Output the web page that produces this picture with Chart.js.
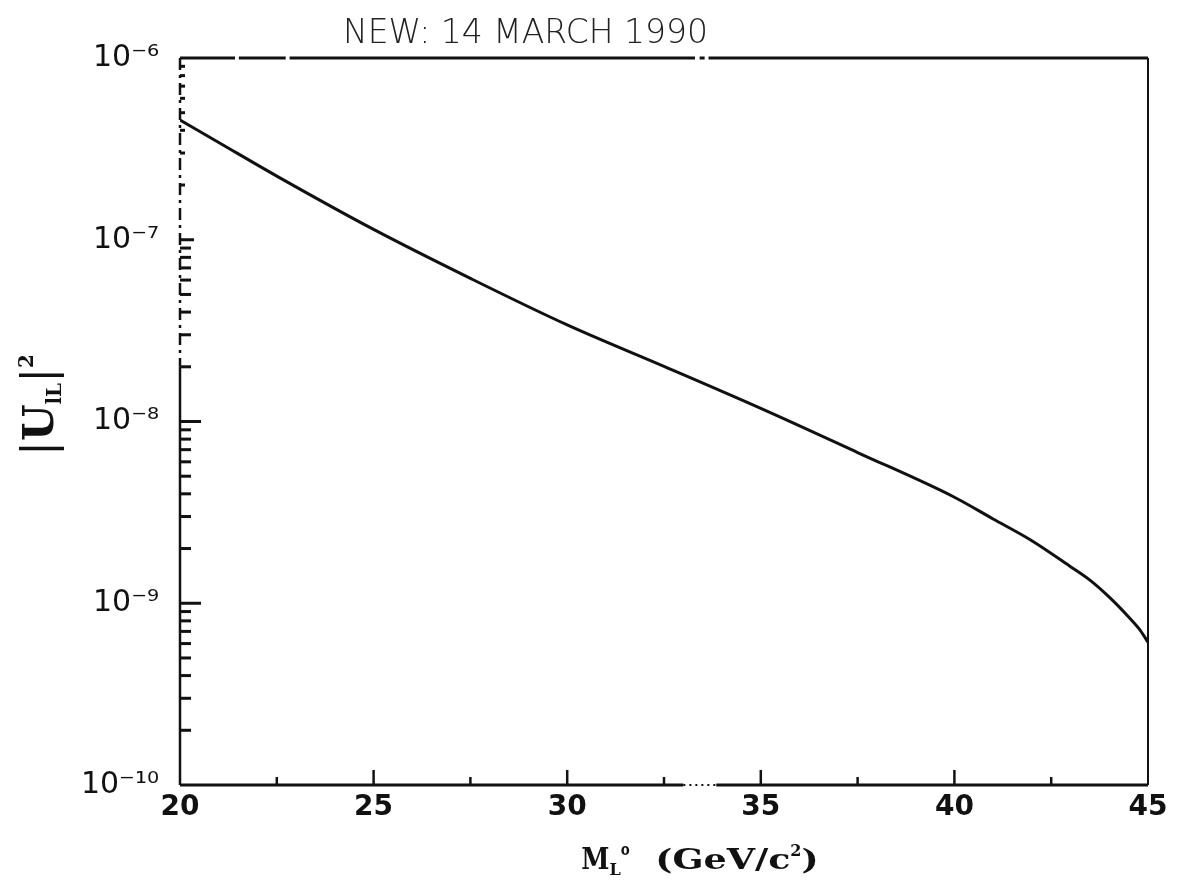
<!DOCTYPE html>
<html>
<head>
<meta charset="utf-8">
<script src="https://cdn.jsdelivr.net/npm/chart.js@4.4.1/dist/chart.umd.min.js"></script>
<style>
  html, body { margin: 0; padding: 0; background: #fff; }
  canvas { display: block; }
</style>
</head>
<body>
<canvas id="limitChart" width="1182" height="883"></canvas>
<script>
"use strict";

// heavy lepton mass (GeV/c^2) and the |U|^2 limit along the curve
const massValues = [20, 21, 22.5, 25, 27.5, 30, 32.5, 35, 37.5, 40, 41, 42, 43, 43.5, 44, 44.5, 44.8, 45];
const mixingValues = [4.56e-7, 3.43e-7, 2.24e-7, 1.14e-7, 6.13e-8, 3.4e-8, 2.01e-8, 1.18e-8, 6.75e-9,
  3.83e-9, 2.91e-9, 2.21e-9, 1.59e-9, 1.34e-9, 1.08e-9, 8.4e-10, 7.1e-10, 6.1e-10];

// axis ticks
const xMajorTicks = [20, 25, 30, 35, 40, 45];
const xMinorTicks = [22.5, 27.5, 32.5, 37.5, 42.5];
const yDecades = [-10, -9, -8, -7, -6];

const ink = "#111";
const supers = { "-": "⁻", "0": "⁰", "1": "¹", "2": "²", "3": "³", "4": "⁴", "5": "⁵", "6": "⁶", "7": "⁷", "8": "⁸", "9": "⁹" };
const powerLabel = (v) => {
  const e = Math.round(Math.log10(v));
  return "10" + String(e).split("").map((c) => supers[c]).join("");
};

// draws a run of text pieces with their own font, vertical shift and stretch
function drawRuns(ctx, runs, x, y, centered) {
  let total = 0;
  runs.forEach((r) => {
    ctx.font = r.font;
    r.w = ctx.measureText(r.t).width * (r.sx || 1);
    total += r.w;
  });
  let cx = centered ? x - total / 2 : x;
  runs.forEach((r) => {
    ctx.save();
    ctx.font = r.font;
    ctx.translate(cx, y + (r.dy || 0));
    ctx.scale(r.sx || 1, 1);
    ctx.fillText(r.t, 0, 0);
    ctx.restore();
    cx += r.w;
  });
}

const frameAndLabels = {
  id: "frameAndLabels",
  afterDraw(chart) {
    const { ctx, chartArea: a, scales } = chart;
    const x = scales.x;
    const y = scales.y;
    ctx.save();
    ctx.strokeStyle = ink;
    ctx.fillStyle = ink;

    // frame: the upper part of the left axis and bits of the top are broken
    const yBreak = y.getPixelForValue(2e-8);
    ctx.lineWidth = 2.5;
    ctx.setLineDash([12, 5, 3, 5]);
    ctx.beginPath();
    ctx.moveTo(a.left, a.top);
    ctx.lineTo(a.left, yBreak);
    ctx.stroke();
    ctx.setLineDash([]);
    ctx.beginPath();
    ctx.moveTo(a.left, yBreak);
    ctx.lineTo(a.left, a.bottom);
    ctx.stroke();

    ctx.lineWidth = 3;
    const topGaps = [[21.42, 21.52], [22.73, 22.83], [33.3, 33.42], [33.55, 33.65]];
    let start = 20;
    topGaps.forEach(([g0, g1]) => {
      ctx.beginPath();
      ctx.moveTo(x.getPixelForValue(start), a.top);
      ctx.lineTo(x.getPixelForValue(g0), a.top);
      ctx.stroke();
      start = g1;
    });
    ctx.beginPath();
    ctx.moveTo(x.getPixelForValue(start), a.top);
    ctx.lineTo(a.right, a.top);
    ctx.stroke();

    ctx.lineWidth = 2;
    ctx.beginPath();
    ctx.moveTo(a.right, a.top);
    ctx.lineTo(a.right, a.bottom);
    ctx.stroke();

    ctx.lineWidth = 3;
    ctx.beginPath();
    ctx.moveTo(a.left, a.bottom);
    ctx.lineTo(x.getPixelForValue(33.0), a.bottom);
    ctx.moveTo(x.getPixelForValue(33.85), a.bottom);
    ctx.lineTo(a.right, a.bottom);
    ctx.stroke();
    ctx.setLineDash([2, 4]);
    ctx.lineWidth = 2;
    ctx.beginPath();
    ctx.moveTo(x.getPixelForValue(33.0), a.bottom);
    ctx.lineTo(x.getPixelForValue(33.85), a.bottom);
    ctx.stroke();
    ctx.setLineDash([]);

    // inward ticks on the left axis
    ctx.lineWidth = 3;
    yDecades.forEach((e) => {
      if (e > -10 && e < -6) {
        const py = y.getPixelForValue(Math.pow(10, e));
        ctx.beginPath();
        ctx.moveTo(a.left, py);
        ctx.lineTo(a.left + (e === -7 ? 14 : 21), py);
        ctx.stroke();
      }
      if (e === -6) return;
      for (let m = 2; m <= 9; m++) {
        const py = y.getPixelForValue(m * Math.pow(10, e));
        ctx.beginPath();
        ctx.moveTo(a.left, py);
        ctx.lineTo(a.left + (e === -7 ? 5 : 11), py);
        ctx.stroke();
      }
    });

    // inward ticks on the bottom axis
    ctx.lineWidth = 2.5;
    xMajorTicks.slice(1, -1).forEach((v) => {
      const px = x.getPixelForValue(v);
      ctx.beginPath();
      ctx.moveTo(px, a.bottom);
      ctx.lineTo(px, a.bottom - 15);
      ctx.stroke();
    });
    xMinorTicks.forEach((v) => {
      const px = x.getPixelForValue(v);
      ctx.beginPath();
      ctx.moveTo(px, a.bottom);
      ctx.lineTo(px, a.bottom - 8);
      ctx.stroke();
    });

    // axis titles
    ctx.textBaseline = "alphabetic";
    ctx.textAlign = "left";
    drawRuns(ctx, [
      { t: "M", font: 'bold 30px "DejaVu Serif"', sx: 0.85 },
      { t: "L", font: 'bold 16px "DejaVu Serif"', dy: 6 },
      { t: "0", font: 'bold 13px "DejaVu Sans"', dy: -14 },
      { t: "  (GeV/c", font: 'bold 28px "DejaVu Serif"', sx: 1.3 },
      { t: "2", font: 'bold 16px "DejaVu Serif"', dy: -13 },
      { t: ")", font: 'bold 28px "DejaVu Serif"', sx: 1.3 }
    ], (a.left + a.right) / 2 + 36, 869, true);

    ctx.save();
    ctx.translate(38, 405);
    ctx.rotate(-Math.PI / 2);
    drawRuns(ctx, [
      { t: "|", font: '44px "DejaVu Serif"' },
      { t: "U", font: 'bold 42px "DejaVu Serif"' },
      { t: "lL", font: 'bold 20px "DejaVu Serif"', dy: 8 },
      { t: "|", font: '44px "DejaVu Serif"' },
      { t: "2", font: 'bold 20px "DejaVu Serif"', dy: -20 }
    ], 0, 15, true);
    ctx.restore();

    // note written above the frame
    ctx.font = '200 33px "DejaVu Sans"';
    ctx.fillStyle = "#222";
    ctx.fillText("NEW: 14 MARCH 1990", 343, 43);
    ctx.restore();
  }
};

new Chart(document.getElementById("limitChart"), {
  type: "line",
  data: {
    datasets: [
      {
        data: massValues.map((m, i) => ({ x: m, y: mixingValues[i] })),
        borderColor: ink,
        borderWidth: 3,
        pointRadius: 0,
        fill: false,
        cubicInterpolationMode: "monotone"
      }
    ]
  },
  options: {
    responsive: false,
    animation: false,
    devicePixelRatio: 1,
    layout: { padding: { left: 0, top: 58, right: 34, bottom: 0 } },
    plugins: {
      legend: { display: false },
      title: { display: false },
      tooltip: { enabled: false }
    },
    scales: {
      x: {
        type: "linear",
        min: 20,
        max: 45,
        grid: { display: false },
        border: { display: false },
        afterBuildTicks: (scale) => {
          scale.ticks = xMajorTicks.map((v) => ({ value: v }));
        },
        afterFit: (scale) => {
          scale.height = 98;
        },
        ticks: {
          color: ink,
          padding: -2,
          maxRotation: 0,
          autoSkip: false,
          font: { family: "DejaVu Sans", size: 28, weight: "bold" }
        }
      },
      y: {
        type: "logarithmic",
        min: 1e-10,
        max: 1e-6,
        grid: { display: false },
        border: { display: false },
        afterBuildTicks: (scale) => {
          scale.ticks = yDecades.map((e) => ({ value: Math.pow(10, e) }));
        },
        afterFit: (scale) => {
          scale.width = 180;
        },
        ticks: {
          color: ink,
          padding: 13,
          autoSkip: false,
          font: { family: "DejaVu Sans", size: 30 },
          callback: (v) => powerLabel(v)
        }
      }
    }
  },
  plugins: [frameAndLabels]
});
</script>
</body>
</html>
